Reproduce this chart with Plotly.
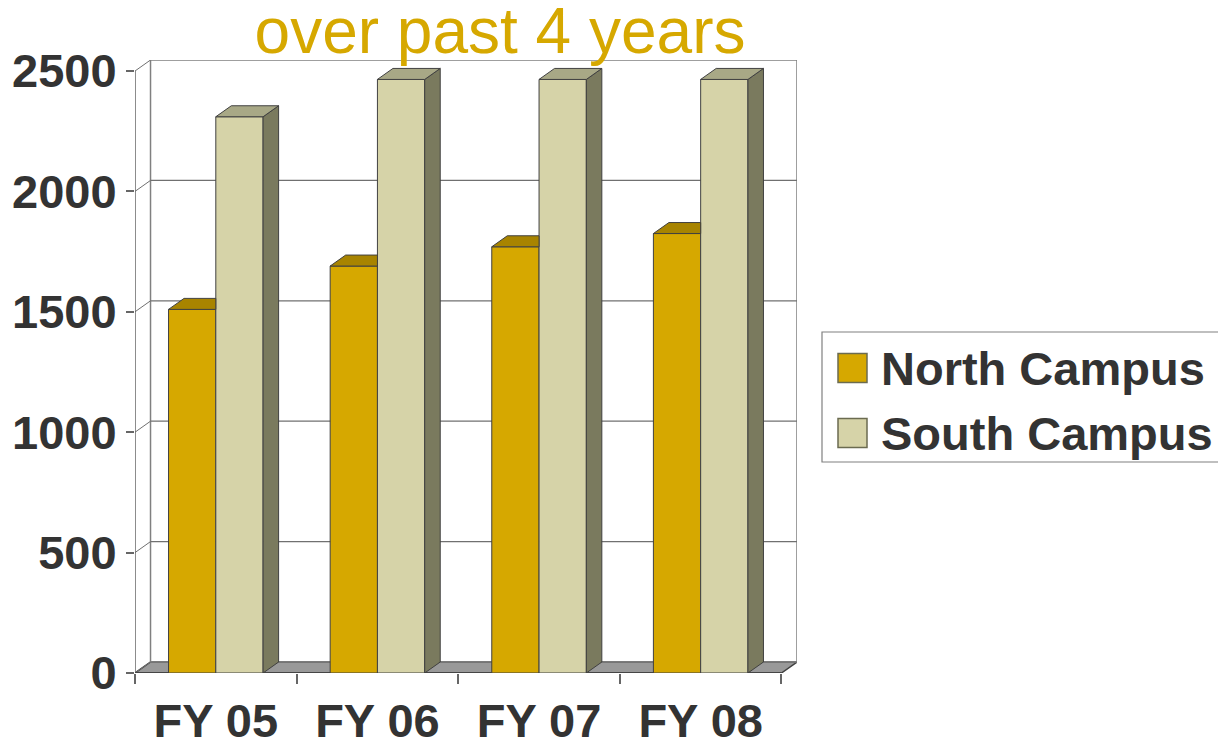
import plotly.graph_objects as go

# ---- data ----
categories = ["FY 05", "FY 06", "FY 07", "FY 08"]
north_values = [1510, 1690, 1770, 1825]
south_values = [2310, 2465, 2465, 2465]
series_names = ["North Campus", "South Campus"]
y_ticks = [0, 500, 1000, 1500, 2000, 2500]
title_text = "over past 4 years"

# ---- style ----
NORTH_FRONT, NORTH_TOP = "#D6A800", "#A88400"
SOUTH_FRONT, SOUTH_TOP, SOUTH_SIDE = "#D6D3A8", "#A8A886", "#7A7A5E"
EDGE = "#404040"
GRID = "#707070"
TEXT = "#333333"
FONT = "Liberation Sans"
BARGAP = 0.415
W = (1 - BARGAP) / 2          # width of one bar in category units
DX, DY = 0.096, 45.7          # 3-D depth offset (x units, y units)
YMAX = y_ticks[-1]

W_PX, H_PX = 1226, 744
OFF = 8                        # page body margin added by the html page
# plot area in page pixels: x 135..797, y 60..673
ML = 135 - OFF
MT = 60 - OFF
MR = W_PX - (797 - OFF)
MB = H_PX - (673 - OFF)

xpos = list(range(len(categories)))

fig = go.Figure()

fig.add_trace(go.Bar(x=xpos, y=north_values, name=series_names[0],
                     marker=dict(color=NORTH_FRONT, line=dict(color=EDGE, width=1)),
                     showlegend=False, hoverinfo="skip"))
fig.add_trace(go.Bar(x=xpos, y=south_values, name=series_names[1],
                     marker=dict(color=SOUTH_FRONT, line=dict(color=EDGE, width=1)),
                     showlegend=False, hoverinfo="skip"))


def poly_trace(polys, color):
    xs, ys = [], []
    for p in polys:
        for (a, b) in p:
            xs.append(a)
            ys.append(b)
        xs.append(p[0][0]); ys.append(p[0][1])
        xs.append(None); ys.append(None)
    return go.Scatter(x=xs, y=ys, mode="lines", fill="toself", fillcolor=color,
                      line=dict(color=EDGE, width=1), showlegend=False,
                      hoverinfo="skip")


north_tops, south_tops, south_sides = [], [], []
for i, (vn, vs) in enumerate(zip(north_values, south_values)):
    cn = i - W / 2
    cs = i + W / 2
    # north top face, hidden behind the south bar on its right
    north_tops.append([(cn - W / 2, vn), (cn + W / 2, vn),
                       (cn + W / 2, vn + DY), (cn - W / 2 + DX, vn + DY)])
    south_tops.append([(cs - W / 2, vs), (cs + W / 2, vs),
                       (cs + W / 2 + DX, vs + DY), (cs - W / 2 + DX, vs + DY)])
    south_sides.append([(cs + W / 2, 0), (cs + W / 2, vs),
                        (cs + W / 2 + DX, vs + DY), (cs + W / 2 + DX, DY)])

fig.add_trace(poly_trace(north_tops, NORTH_TOP))
fig.add_trace(poly_trace(south_sides, SOUTH_SIDE))
fig.add_trace(poly_trace(south_tops, SOUTH_TOP))

x0, x1 = -0.5, len(categories) - 0.5

shapes = []
# floor
shapes.append(dict(type="path", layer="below",
                   path=f"M {x0},0 L {x1},0 L {x1+DX},{DY} L {x0+DX},{DY} Z",
                   fillcolor="#999999", line=dict(color=EDGE, width=1.5)))
# back wall frame
shapes.append(dict(type="rect", layer="below", x0=x0 + DX, x1=x1 + DX, y0=DY, y1=YMAX + DY,
                   line=dict(color="#808080", width=1.5)))
# gridlines on back wall + left wall diagonals
for v in y_ticks:
    if 0 < v < YMAX:
        shapes.append(dict(type="line", layer="below", x0=x0 + DX, x1=x1 + DX,
                           y0=v + DY, y1=v + DY, line=dict(color=GRID, width=1.2)))
    shapes.append(dict(type="line", layer="below", x0=x0, x1=x0 + DX, y0=v, y1=v + DY,
                       line=dict(color=GRID, width=1)))
# front axis lines
shapes.append(dict(type="line", layer="below", x0=x0, x1=x0, y0=0, y1=YMAX,
                   line=dict(color="#666666", width=1.5)))
shapes.append(dict(type="line", layer="below", x0=x0, x1=x1, y0=0, y1=0,
                   line=dict(color=EDGE, width=1.5)))


# ---- manual legend (page pixel positions converted to paper coords) ----
def px_x(px):
    return (px - OFF - ML) / (W_PX - ML - MR)


def px_y(py):
    return (H_PX - MB - (py - OFF)) / (H_PX - MT - MB)


shapes.append(dict(type="rect", xref="paper", yref="paper",
                   x0=px_x(822), x1=px_x(1250), y0=px_y(462), y1=px_y(332),
                   line=dict(color="#808080", width=1.2), fillcolor="white"))
annotations = []
for k, (name, col) in enumerate(zip(series_names, [NORTH_FRONT, SOUTH_FRONT])):
    cy = 368 + k * 65
    shapes.append(dict(type="rect", xref="paper", yref="paper",
                       x0=px_x(838), x1=px_x(867), y0=px_y(cy + 14.5), y1=px_y(cy - 14.5),
                       fillcolor=col, line=dict(color="#6b6b50", width=1.5)))
    annotations.append(dict(xref="paper", yref="paper", x=px_x(879), y=px_y(cy),
                            xanchor="left", yanchor="middle", showarrow=False,
                            text=f"<b>{name}</b>",
                            font=dict(family=FONT, size=47, color=TEXT)))

fig.update_layout(
    width=W_PX, height=H_PX,
    margin=dict(l=ML, r=MR, t=MT, b=MB, autoexpand=False),
    paper_bgcolor="white", plot_bgcolor="white",
    barmode="group", bargap=BARGAP, bargroupgap=0,
    showlegend=False,
    title=dict(text=title_text, x=(500 - OFF) / W_PX, xanchor="center", xref="container",
               y=0.969, yanchor="middle", yref="container", automargin=False,
               font=dict(family=FONT, size=64, color="#D6A800")),
    xaxis=dict(range=[x0, x1 + DX], tickvals=xpos, ticktext=categories,
               ticks="", showgrid=False, zeroline=False, showline=False,
               automargin=False,
               tickfont=dict(family=FONT, size=47, color=TEXT, weight="bold"),
               ticklabelstandoff=16,
               minor=dict(tickvals=[x0 + i for i in range(len(categories) + 1)],
                          ticks="outside", ticklen=10, tickcolor="#666666",
                          tickwidth=1.5, showgrid=False)),
    yaxis=dict(range=[0, YMAX + DY], tickvals=y_ticks, ticks="outside", ticklen=8,
               tickcolor="#666666", tickwidth=1.5, showgrid=False, zeroline=False,
               showline=False, automargin=False,
               tickfont=dict(family=FONT, size=47, color=TEXT, weight="bold")),
    shapes=shapes,
    annotations=annotations,
)

fig.write_html("out.html")
